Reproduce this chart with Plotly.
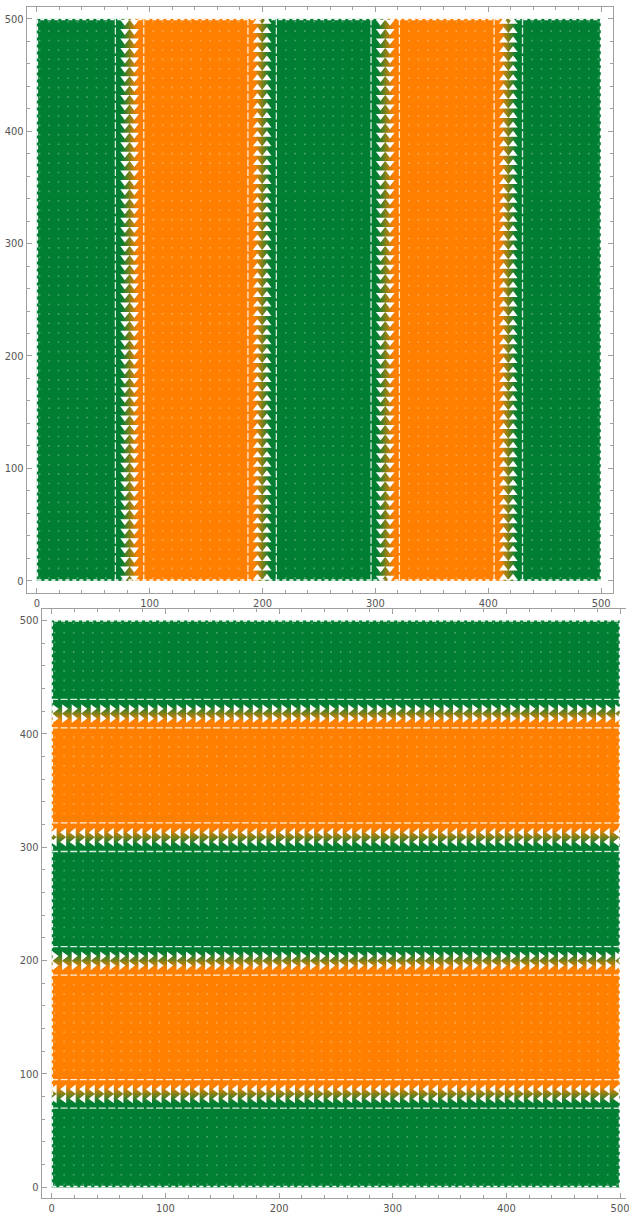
import numpy as np
import plotly.graph_objects as go

# Sample lattice of the vector field (same in x and y)
grid = np.linspace(2.5, 497.5, 60)

# Stripe layout: colour of each band (0 = green, 1 = orange) and the band boundaries
band_level = [0, 1, 0, 1, 0]
boundary_pos = [82, 200, 309, 418]
ramp_half_width = 7

# Flow direction of the arrows sitting on each boundary
top_dirs = ["down", "up", "down", "up"]
bottom_dirs = ["left", "right", "left", "right"]

tick_vals = [0, 100, 200, 300, 400, 500]

GREEN = "#007F33"
ORANGE = "#FF8000"
FRAME = "#a0a0a0"

# Colour profile across the stripes
stops, levels = [0.0], [band_level[0]]
for i, b in enumerate(boundary_pos):
    stops += [b - ramp_half_width, b + ramp_half_width]
    levels += [band_level[i], band_level[i + 1]]
stops.append(500.0)
levels.append(band_level[-1])

edges = np.arange(0, 500.5, 0.5)
centers = (edges[:-1] + edges[1:]) / 2
profile = np.interp(centers, stops, levels)

# Which lattice lines carry arrows / short dashes
dist = np.array([np.min(np.abs(g - np.array(boundary_pos))) for g in grid])
arrow_lines = []
arrow_dir_top = []
arrow_dir_bot = []
for b, dt, db in zip(boundary_pos, top_dirs, bottom_dirs):
    for g in grid[np.abs(grid - b) < 6]:
        arrow_lines.append(g)
        arrow_dir_top.append(dt)
        arrow_dir_bot.append(db)
dash_lines = grid[(dist >= 6) & (dist < 14)]
plain_lines = grid[dist >= 14]

cscale = [[0, GREEN], [1, ORANGE]]
fig = go.Figure()

DOT = dict(symbol="square", size=1.6, color="rgba(255,255,255,0.3)")
DASH_COL = "rgba(255,255,255,0.85)"

# ---------- top panel: vertical stripes ----------
fig.add_trace(go.Heatmap(x=edges, y=[0, 500], z=[profile], colorscale=cscale,
                         zmin=0, zmax=1, showscale=False, hoverinfo="skip",
                         xaxis="x", yaxis="y"))
px_, py_ = np.meshgrid(plain_lines, grid)
fig.add_trace(go.Scatter(x=px_.ravel(), y=py_.ravel(), mode="markers", marker=DOT,
                         xaxis="x", yaxis="y", hoverinfo="skip"))
dx_, dy_ = np.meshgrid(dash_lines, grid)
fig.add_trace(go.Scatter(x=dx_.ravel(), y=dy_.ravel(), mode="markers",
                         marker=dict(symbol="line-ns", size=5,
                                     line=dict(color=DASH_COL, width=1.3)),
                         xaxis="x", yaxis="y", hoverinfo="skip"))
for xl, d in zip(arrow_lines, arrow_dir_top):
    fig.add_trace(go.Scatter(x=[xl] * len(grid), y=grid, mode="markers",
                             marker=dict(symbol="triangle-" + d, size=8, color="white",
                                         line=dict(width=0)),
                             xaxis="x", yaxis="y", hoverinfo="skip"))
fig.add_trace(go.Scatter(x=[0.5, 499.5, 499.5, 0.5, 0.5], y=[0.5, 0.5, 499.5, 499.5, 0.5],
                         mode="lines", line=dict(color="white", width=1.5, dash="4px,3px"),
                         xaxis="x", yaxis="y", hoverinfo="skip"))

# ---------- bottom panel: horizontal stripes ----------
fig.add_trace(go.Heatmap(x=[0, 500], y=edges, z=[[v] for v in profile], colorscale=cscale,
                         zmin=0, zmax=1, showscale=False, hoverinfo="skip",
                         xaxis="x2", yaxis="y2"))
fig.add_trace(go.Scatter(x=py_.ravel(), y=px_.ravel(), mode="markers", marker=DOT,
                         xaxis="x2", yaxis="y2", hoverinfo="skip"))
fig.add_trace(go.Scatter(x=dy_.ravel(), y=dx_.ravel(), mode="markers",
                         marker=dict(symbol="line-ew", size=5,
                                     line=dict(color=DASH_COL, width=1.3)),
                         xaxis="x2", yaxis="y2", hoverinfo="skip"))
for yl, d in zip(arrow_lines, arrow_dir_bot):
    fig.add_trace(go.Scatter(x=grid, y=[yl] * len(grid), mode="markers",
                             marker=dict(symbol="triangle-" + d, size=8, color="white",
                                         line=dict(width=0)),
                             xaxis="x2", yaxis="y2", hoverinfo="skip"))
fig.add_trace(go.Scatter(x=[0.5, 499.5, 499.5, 0.5, 0.5], y=[0.5, 0.5, 499.5, 499.5, 0.5],
                         mode="lines", line=dict(color="white", width=1.5, dash="4px,3px"),
                         xaxis="x2", yaxis="y2", hoverinfo="skip"))

W, H = 629, 1215
axis_style = dict(showgrid=False, zeroline=False, showline=True, linecolor=FRAME, linewidth=1,
                  ticks="inside", ticklen=5, tickwidth=1, tickcolor=FRAME,
                  tickvals=tick_vals, ticktext=[str(v) for v in tick_vals],
                  minor=dict(ticks="inside", ticklen=3, tickwidth=1, tickcolor=FRAME,
                             dtick=20, tick0=0, showgrid=False),
                  tickfont=dict(family="Liberation Sans Narrow, DejaVu Sans Condensed, sans-serif",
                                size=11, color="#555555"),
                  ticklabeloverflow="allow",
                  fixedrange=True)

fig.update_layout(
    width=W, height=H, margin=dict(l=0, r=0, t=0, b=0),
    paper_bgcolor="white", plot_bgcolor="white", showlegend=False,
    xaxis=dict(domain=[27 / W, 616 / W], range=[-8.8, 510.6], anchor="y",
               mirror="ticks", **axis_style),
    yaxis=dict(domain=[1 - 595 / H, 1 - 7 / H], range=[-10.6, 510.6], anchor="x",
               mirror="ticks", **axis_style),
    xaxis2=dict(domain=[42 / W, 1], range=[-8.76, 505.25], anchor="y2",
                mirror="ticks", **axis_style),
    yaxis2=dict(domain=[1 - 1203 / H, 1 - 612 / H], range=[-9.67, 509.7], anchor="x2",
                mirror=False, **axis_style),
)

fig.write_html("out.html")
